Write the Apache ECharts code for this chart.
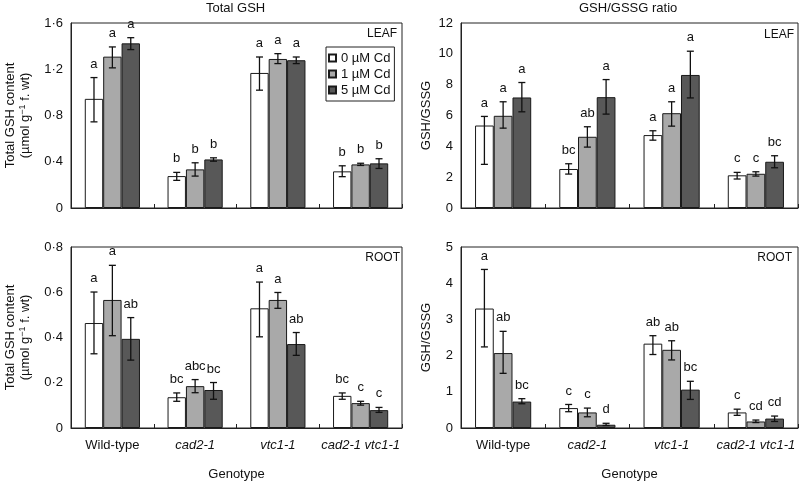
<!DOCTYPE html>
<html><head><meta charset="utf-8">
<script src="https://cdn.jsdelivr.net/npm/echarts@6/dist/echarts.min.js"></script>
<style>html,body{margin:0;padding:0;background:#fff}#c{width:800px;height:482px}</style>
</head><body><div id="c"></div>
<script>
const categories = ['Wild-type', 'cad2-1', 'vtc1-1', 'cad2-1 vtc1-1'];
const doses = ['0 \u00b5M Cd', '1 \u00b5M Cd', '5 \u00b5M Cd'];

// Leaf total GSH (µmol g-1 f. wt), rows = dose, cols = genotype
const leafGSH    = [[0.944, 0.276, 1.168, 0.317], [1.309, 0.334, 1.289, 0.377], [1.424, 0.420, 1.278, 0.386]];
const leafGSHLo  = [[0.745, 0.239, 1.019, 0.271], [1.212, 0.276, 1.249, 0.368], [1.370, 0.405, 1.249, 0.342]];
const leafGSHHi  = [[1.128, 0.308, 1.306, 0.365], [1.393, 0.391, 1.335, 0.387], [1.473, 0.434, 1.306, 0.426]];
const leafGSHLetters = [['a', 'b', 'a', 'b'], ['a', 'b', 'a', 'b'], ['a', 'b', 'a', 'b']];

// Leaf GSH/GSSG ratio
const leafRatio   = [[5.35, 2.53, 4.73, 2.12], [5.98, 4.62, 6.15, 2.22], [7.17, 7.19, 8.63, 3.00]];
const leafRatioLo = [[2.83, 2.20, 4.40, 1.88], [5.18, 3.95, 5.31, 2.07], [6.24, 6.09, 7.14, 2.61]];
const leafRatioHi = [[5.94, 2.87, 5.01, 2.31], [6.89, 5.27, 6.89, 2.35], [8.14, 8.33, 10.17, 3.39]];
const leafRatioLetters = [['a', 'bc', 'a', 'c'], ['a', 'ab', 'a', 'c'], ['a', 'a', 'a', 'bc']];

// Root total GSH
const rootGSH    = [[0.464, 0.136, 0.529, 0.142], [0.566, 0.185, 0.566, 0.110], [0.394, 0.168, 0.371, 0.079]];
const rootGSHLo  = [[0.328, 0.118, 0.403, 0.127], [0.408, 0.156, 0.529, 0.101], [0.300, 0.127, 0.321, 0.069]];
const rootGSHHi  = [[0.601, 0.155, 0.645, 0.155], [0.719, 0.214, 0.599, 0.118], [0.488, 0.201, 0.422, 0.091]];
const rootGSHLetters = [['a', 'bc', 'a', 'bc'], ['a', 'abc', 'a', 'c'], ['ab', 'bc', 'ab', 'c']];

// Root GSH/GSSG ratio
const rootRatio   = [[3.30, 0.55, 2.33, 0.43], [2.07, 0.43, 2.16, 0.18], [0.73, 0.09, 1.06, 0.26]];
const rootRatioLo = [[2.24, 0.45, 2.03, 0.35], [1.51, 0.31, 1.88, 0.15], [0.67, 0.07, 0.79, 0.18]];
const rootRatioHi = [[4.38, 0.65, 2.55, 0.52], [2.67, 0.55, 2.41, 0.22], [0.81, 0.13, 1.29, 0.33]];
const rootRatioLetters = [['a', 'c', 'ab', 'c'], ['ab', 'c', 'ab', 'cd'], ['bc', 'd', 'bc', 'cd']];

const FONT = '"Liberation Sans", Arial, Helvetica, sans-serif';
const TXT = '#111';
const barColors = ['#ffffff', '#a9a9a9', '#585858'];

const gridsPos = [
  {left: 71, top: 23, width: 331, height: 185},
  {left: 461, top: 23, width: 337, height: 185},
  {left: 71, top: 247, width: 331, height: 184},
  {left: 461, top: 247, width: 337, height: 184}
];

const panels = [
  {vals: leafGSH, lo: leafGSHLo, hi: leafGSHHi, letters: leafGSHLetters, max: 1.6, interval: 0.4, dec: true,
   name: 'Total GSH content\n(\u00b5mol g{sup|\u22121} f. wt)', nameGap: 38, bottom: false},
  {vals: leafRatio, lo: leafRatioLo, hi: leafRatioHi, letters: leafRatioLetters, max: 12, interval: 2, dec: false,
   name: 'GSH/GSSG', nameGap: 27, bottom: false},
  {vals: rootGSH, lo: rootGSHLo, hi: rootGSHHi, letters: rootGSHLetters, max: 0.8, interval: 0.2, dec: true,
   name: 'Total GSH content\n(\u00b5mol g{sup|\u22121} f. wt)', nameGap: 38, bottom: true},
  {vals: rootRatio, lo: rootRatioLo, hi: rootRatioHi, letters: rootRatioLetters, max: 5, interval: 1, dec: false,
   name: 'GSH/GSSG', nameGap: 27, bottom: true}
];

const grid = [], xAxis = [], yAxis = [], series = [];
panels.forEach((p, k) => {
  grid.push(Object.assign({show: true, borderColor: '#222', borderWidth: 1, backgroundColor: 'transparent'}, gridsPos[k]));
  xAxis.push({
    type: 'category', gridIndex: k, data: categories,
    axisLine: {lineStyle: {color: '#222', width: 1}},
    axisTick: {show: true, inside: true, length: 4, lineStyle: {color: '#222'}},
    axisLabel: {
      show: p.bottom, interval: 0, margin: 11, color: TXT, fontFamily: FONT, fontSize: 13,
      formatter: v => v === 'Wild-type' ? v : '{i|' + v + '}',
      rich: {i: {fontStyle: 'italic', fontFamily: FONT, fontSize: 13, color: TXT}}
    },
    name: p.bottom ? 'Genotype' : '', nameLocation: 'middle', nameGap: 40,
    nameTextStyle: {fontFamily: FONT, fontSize: 13, color: TXT}
  });
  yAxis.push({
    type: 'value', gridIndex: k, min: 0, max: p.max, interval: p.interval,
    axisLine: {show: true, lineStyle: {color: '#222', width: 1}},
    axisTick: {show: false}, splitLine: {show: false},
    axisLabel: {
      margin: 8, color: TXT, fontFamily: FONT, fontSize: 13,
      formatter: v => v === 0 ? '0' : (p.dec ? v.toFixed(1).replace('.', '\u00b7') : String(v))
    },
    name: p.name, nameLocation: 'middle', nameRotate: 90, nameGap: p.nameGap,
    nameTextStyle: {fontFamily: FONT, fontSize: 13, color: TXT, lineHeight: 15, align: 'center',
      rich: {sup: {fontSize: 9, fontFamily: FONT, color: TXT, verticalAlign: 'top', padding: [0, 0, 6, 0]}}}
  });
  for (let d = 0; d < 3; d++) {
    series.push({
      type: 'bar', name: doses[d], xAxisIndex: k, yAxisIndex: k,
      data: p.vals[d], barGap: '0%', barCategoryGap: '33.33%',
      itemStyle: {color: barColors[d], borderColor: '#1a1a1a', borderWidth: 1},
      emphasis: {disabled: true}, animation: false
    });
  }
  const errData = [];
  for (let d = 0; d < 3; d++) for (let c = 0; c < 4; c++) errData.push([c, p.vals[d][c], p.lo[d][c], p.hi[d][c], d]);
  series.push({
    type: 'custom', name: 'err' + k, xAxisIndex: k, yAxisIndex: k, z: 5, animation: false,
    data: errData,
    renderItem: (params, api) => {
      const c = api.value(0), lo = api.value(2), hi = api.value(3), d = api.value(4);
      const band = api.size([1, 0])[0];
      const bw = band * 2 / 9;
      const x = api.coord([c, 0])[0] + (d - 1) * bw;
      const yHi = api.coord([c, hi])[1], yLo = api.coord([c, lo])[1];
      const cap = 3.5;
      const ls = {stroke: '#111', lineWidth: 1.3};
      return {type: 'group', children: [
        {type: 'line', shape: {x1: x, y1: yHi, x2: x, y2: yLo}, style: ls},
        {type: 'line', shape: {x1: x - cap, y1: yHi, x2: x + cap, y2: yHi}, style: ls},
        {type: 'line', shape: {x1: x - cap, y1: yLo, x2: x + cap, y2: yLo}, style: ls},
        {type: 'text', style: {text: p.letters[d][c], x: x, y: yHi - 7, align: 'center', verticalAlign: 'bottom',
          fontFamily: FONT, fontSize: 13, fill: TXT}}
      ]};
    }
  });
});

const chart = echarts.init(document.getElementById('c'), null, {renderer: 'canvas'});
chart.setOption({
  animation: false,
  grid, xAxis, yAxis, series,
  legend: {
    data: doses, orient: 'vertical', left: 326, top: 47,
    itemWidth: 7, itemHeight: 7, itemGap: 0, padding: [3, 4, 3, 2],
    borderColor: '#222', borderWidth: 1, icon: 'rect', selectedMode: false,
    textStyle: {fontFamily: FONT, fontSize: 13, color: TXT, lineHeight: 16}
  },
  graphic: [
    {type: 'text', left: 206, top: 2, style: {text: 'Total GSH', fontFamily: FONT, fontSize: 13, fill: TXT}},
    {type: 'text', left: 579, top: 2, style: {text: 'GSH/GSSG ratio', fontFamily: FONT, fontSize: 13, fill: TXT}},
    {type: 'text', right: 403, top: 28, style: {text: 'LEAF', fontFamily: FONT, fontSize: 12, fill: TXT}},
    {type: 'text', right: 6, top: 29, style: {text: 'LEAF', fontFamily: FONT, fontSize: 12, fill: TXT}},
    {type: 'text', right: 400, top: 252, style: {text: 'ROOT', fontFamily: FONT, fontSize: 12, fill: TXT}},
    {type: 'text', right: 8, top: 252, style: {text: 'ROOT', fontFamily: FONT, fontSize: 12, fill: TXT}}
  ]
});
</script>
</body></html>
